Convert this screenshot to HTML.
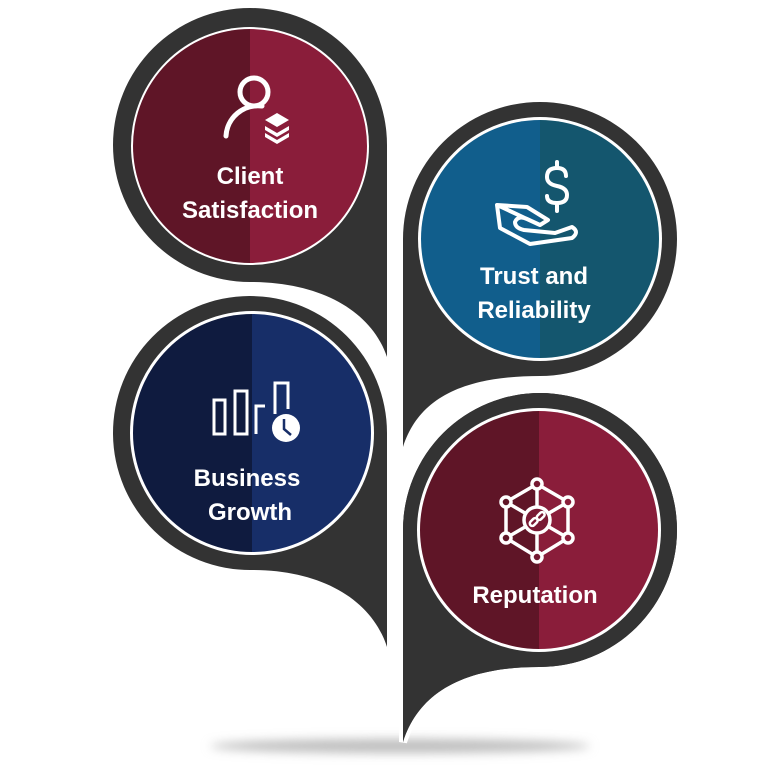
<!DOCTYPE html>
<html><head><meta charset="utf-8"><style>
html,body{margin:0;padding:0;background:#fff;width:768px;height:768px;overflow:hidden}
svg{display:block}
text{font-family:"Liberation Sans",sans-serif;font-weight:bold;fill:#fff;text-anchor:middle;font-size:24px}
</style></head><body>
<svg width="768" height="768" viewBox="0 0 768 768" xmlns="http://www.w3.org/2000/svg">
<defs>
<filter id="bl" x="-20%" y="-200%" width="140%" height="500%"><feGaussianBlur stdDeviation="5"/></filter>
</defs>
<ellipse cx="400" cy="746" rx="190" ry="7" fill="#bdbdbd" filter="url(#bl)"/>

<!-- top-left -->
<path d="M387,145 L387,357 C372,312 322,282 250,282 A137,137 0 1 1 387,145 Z" fill="#333"/>
<!-- top-right -->
<path d="M403,239 L403,447 C418,400 460,376 540,376 A137,137 0 1 0 403,239 Z" fill="#333"/>
<!-- bottom-left -->
<path d="M387,433 L387,647 C372,600 322,570 252,570 A137,137 0 1 1 387,433 Z" fill="#333" stroke="#fff" stroke-width="8" paint-order="stroke"/>
<!-- bottom-right -->
<path d="M403,530 L403,742 C418,695 460,667 539,667 A137,137 0 1 0 403,530 Z" fill="#333" stroke="#fff" stroke-width="8" paint-order="stroke"/>
<path d="M403,530 L403,742 C418,695 460,667 539,667 A137,137 0 1 0 403,530 Z" fill="#333"/>

<!-- colored circles -->
<g>
<circle cx="250" cy="146" r="119" fill="#fff"/>
<path d="M250,29 A117,117 0 0 0 250,263 Z" fill="#5f1527"/>
<path d="M250,29 A117,117 0 0 1 250,263 Z" fill="#8a1d3a"/>
</g>
<g>
<circle cx="540" cy="239" r="122" fill="#fff"/>
<path d="M540,120 A119,119 0 0 0 540,358 Z" fill="#115e8c"/>
<path d="M540,120 A119,119 0 0 1 540,358 Z" fill="#14566e"/>
</g>
<g>
<circle cx="252" cy="433" r="122" fill="#fff"/>
<path d="M252,314 A119,119 0 0 0 252,552 Z" fill="#0f1b3f"/>
<path d="M252,314 A119,119 0 0 1 252,552 Z" fill="#172e68"/>
</g>
<g>
<circle cx="539" cy="530" r="122" fill="#fff"/>
<path d="M539,411 A119,119 0 0 0 539,649 Z" fill="#5f1527"/>
<path d="M539,411 A119,119 0 0 1 539,649 Z" fill="#8a1d3a"/>
</g>

<!-- icons -->
<g fill="none" stroke="#fff" stroke-width="5" stroke-linecap="round">
<circle cx="254" cy="92" r="14"/>
<path d="M226,136 A32,32 0 0 1 262,106"/>
</g>
<g fill="#fff">
<path d="M277,113 L289,120 L277,127 L265,120 Z"/>
<path d="M265,126 L277,133 L289,126 L289,130 L277,137 L265,130 Z"/>
<path d="M265,133 L277,140 L289,133 L289,137 L277,144 L265,137 Z"/>
</g>

<g fill="none" stroke="#fff" stroke-width="4" stroke-linejoin="round" stroke-linecap="round">
<path d="M566,176 Q566,168 557,168 Q547,168 547,177 Q547,184 557,186 Q567,188 567,195 Q567,203 557,203 Q547,203 547,196"/>
<path d="M557,162 L557,168 M557,203 L557,211"/>
<path d="M497,205 L527,207 L548,220 L540,225 L527,219 M527,219 Q518,215 515,222 Q515,228 524,230 L555,233 L572,227 Q580,232 572,238 L530,244 L500,228 L497,205 Z"/>
</g>

<g fill="none" stroke="#fff" stroke-width="3">
<rect x="214" y="400" width="11" height="34"/>
<rect x="235" y="391" width="12" height="43"/>
<path d="M256,434 L256,406 L265,406"/>
<path d="M275,414 L275,383 L288,383 L288,409"/>
</g>
<circle cx="286" cy="428" r="14" fill="#fff"/>
<path d="M284,419 L284,429 L291,435" fill="none" stroke="#172e68" stroke-width="2.5"/>

<g fill="none" stroke="#fff" stroke-width="3.5">
<path d="M537,484 L568,502 L568,538 L537,557 L506,538 L506,502 Z"/>
<path d="M537,484 L537,557 M506,502 L568,538 M568,502 L506,538"/>
</g>
<g fill="#fff" stroke="#fff" stroke-width="3.5">
<circle cx="537" cy="520" r="13" fill="#7a1a34"/>
<circle cx="537" cy="484" r="5" fill="#751a32"/>
<circle cx="537" cy="557" r="5" fill="#751a32"/>
<circle cx="506" cy="502" r="5" fill="#5f1527"/>
<circle cx="506" cy="538" r="5" fill="#5f1527"/>
<circle cx="568" cy="502" r="5" fill="#8a1d3a"/>
<circle cx="568" cy="538" r="5" fill="#8a1d3a"/>
</g>
<g fill="none" stroke="#fff" stroke-width="2.5">
<rect x="529" y="520" width="9" height="5" rx="2.5" transform="rotate(-45 533 522)"/>
<rect x="536" y="514" width="9" height="5" rx="2.5" transform="rotate(-45 540 516)"/>
</g>

<!-- labels -->
<text x="250" y="184">Client</text>
<text x="250" y="218">Satisfaction</text>
<text x="534" y="284">Trust and</text>
<text x="534" y="318">Reliability</text>
<text x="247" y="486">Business</text>
<text x="250" y="520">Growth</text>
<text x="535" y="603">Reputation</text>
</svg>
</body></html>
